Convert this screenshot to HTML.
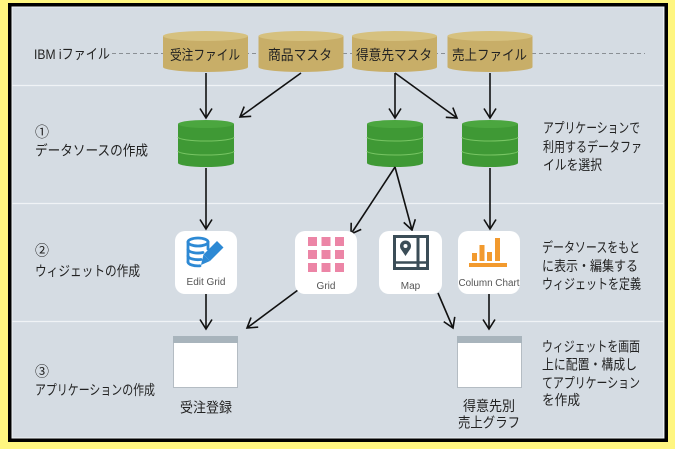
<!DOCTYPE html>
<html><head><meta charset="utf-8">
<style>
html,body{margin:0;padding:0;background:#fff680;}
svg{display:block;}
text{font-family:"Liberation Sans","Noto Sans CJK JP",sans-serif;fill:#222;}
</style></head>
<body>
<svg width="675" height="449" viewBox="0 0 675 449" xmlns="http://www.w3.org/2000/svg">
<defs>
<marker id="ah" viewBox="-11 -7 13 14" markerWidth="13" markerHeight="14" refX="0" refY="0" orient="auto" markerUnits="userSpaceOnUse">
<path d="M-9.5,-6 L0,0 L-9.5,6" fill="none" stroke="#111" stroke-width="1.6" stroke-linejoin="miter"/>
</marker>
</defs>
<rect width="675" height="449" fill="#fff680"/>
<rect x="9.75" y="4.75" width="656.5" height="435.5" fill="#d5dce3" stroke="#000" stroke-width="3.5"/>
<rect x="12" y="7" width="651.5" height="431" fill="none" stroke="#eef2f5" stroke-width="1"/>
<!-- separators -->
<line x1="12" y1="85.5" x2="664" y2="85.5" stroke="#f0f3f6" stroke-width="1.2"/>
<line x1="12" y1="203.5" x2="664" y2="203.5" stroke="#f0f3f6" stroke-width="1.2"/>
<line x1="12" y1="321.5" x2="664" y2="321.5" stroke="#f0f3f6" stroke-width="1.2"/>
<!-- dashed -->
<line x1="112" y1="53.5" x2="645" y2="53.5" stroke="#8a8f94" stroke-width="0.9" stroke-dasharray="4,3"/>

<!-- tan cylinders -->
<g>
<path d="M163,36 v31 a42.5,5 0 0 0 85,0 v-31 z" fill="#c8ae68"/>
<ellipse cx="205.5" cy="36" rx="42.5" ry="5" fill="#d6c17f"/>
<path d="M258.5,36 v31 a42.5,5 0 0 0 85,0 v-31 z" fill="#c8ae68"/>
<ellipse cx="301" cy="36" rx="42.5" ry="5" fill="#d6c17f"/>
<path d="M352,36 v31 a42.5,5 0 0 0 85,0 v-31 z" fill="#c8ae68"/>
<ellipse cx="394.5" cy="36" rx="42.5" ry="5" fill="#d6c17f"/>
<path d="M447.5,36 v31 a42.5,5 0 0 0 85,0 v-31 z" fill="#c8ae68"/>
<ellipse cx="490" cy="36" rx="42.5" ry="5" fill="#d6c17f"/>
</g>
<g font-size="14">
<text x="170" y="60" textLength="70" lengthAdjust="spacingAndGlyphs">受注ファイル</text>
<text x="268" y="60" textLength="64" lengthAdjust="spacingAndGlyphs">商品マスタ</text>
<text x="356" y="60" textLength="76" lengthAdjust="spacingAndGlyphs">得意先マスタ</text>
<text x="452" y="60" textLength="75" lengthAdjust="spacingAndGlyphs">売上ファイル</text>
</g>

<!-- green cylinders -->
<g>
<path d="M178,124 v39 a28,4 0 0 0 56,0 v-39 z" fill="#3f9935"/>
<ellipse cx="206" cy="124" rx="28" ry="4" fill="#4ba63f"/>
<path d="M178,137 a28,4 0 0 0 56,0" fill="none" stroke="#78c564" stroke-width="1"/>
<path d="M178,151 a28,4 0 0 0 56,0" fill="none" stroke="#78c564" stroke-width="1"/>

<path d="M367,124 v39 a28,4 0 0 0 56,0 v-39 z" fill="#3f9935"/>
<ellipse cx="395" cy="124" rx="28" ry="4" fill="#4ba63f"/>
<path d="M367,137 a28,4 0 0 0 56,0" fill="none" stroke="#78c564" stroke-width="1"/>
<path d="M367,151 a28,4 0 0 0 56,0" fill="none" stroke="#78c564" stroke-width="1"/>

<path d="M462,124 v39 a28,4 0 0 0 56,0 v-39 z" fill="#3f9935"/>
<ellipse cx="490" cy="124" rx="28" ry="4" fill="#4ba63f"/>
<path d="M462,137 a28,4 0 0 0 56,0" fill="none" stroke="#78c564" stroke-width="1"/>
<path d="M462,151 a28,4 0 0 0 56,0" fill="none" stroke="#78c564" stroke-width="1"/>
</g>

<!-- arrows -->
<g stroke="#111" stroke-width="1.6" fill="none" marker-end="url(#ah)">
<line x1="206" y1="73" x2="206" y2="118"/>
<line x1="301" y1="73" x2="240" y2="117"/>
<line x1="395" y1="73" x2="395" y2="118"/>
<line x1="395" y1="73" x2="457" y2="118"/>
<line x1="490" y1="73" x2="490" y2="118"/>
<line x1="206" y1="168" x2="206" y2="229"/>
<line x1="395" y1="167" x2="351" y2="234"/>
<line x1="395" y1="167" x2="412" y2="230"/>
<line x1="490" y1="168" x2="490" y2="229"/>
<line x1="206" y1="294" x2="206" y2="329"/>
<line x1="298" y1="290" x2="247" y2="328"/>
<line x1="438" y1="293" x2="453" y2="328"/>
<line x1="489" y1="294" x2="489" y2="329"/>
</g>

<!-- widget cards -->
<rect x="175" y="231" width="62" height="63" rx="10" fill="#fff"/>
<rect x="295" y="231" width="62" height="63" rx="10" fill="#fff"/>
<rect x="379" y="231" width="63" height="63" rx="10" fill="#fff"/>
<rect x="458" y="231" width="62" height="63" rx="10" fill="#fff"/>

<!-- Edit Grid icon -->
<g stroke="#2d89d4" stroke-width="2.8" fill="none" stroke-linecap="round">
<ellipse cx="198" cy="242" rx="10" ry="4"/>
<line x1="188" y1="242" x2="188" y2="262"/>
<line x1="208" y1="242" x2="208" y2="249"/>
<path d="M188,249.5 a10,4 0 0 0 15,3"/>
<path d="M188,256 a10,4 0 0 0 13,3.5"/>
<path d="M188,262 a10,4 0 0 0 12,3.8"/>
</g>
<polygon points="217,241 223.5,247.5 210,261 203.5,254.5" fill="#2d89d4"/>
<polygon points="203.5,254.5 210,261 201,265" fill="#2d89d4"/>
<text x="206" y="285" font-size="10" text-anchor="middle" style="fill:#555">Edit Grid</text>

<!-- Grid icon -->
<g fill="#ec85a6">
<rect x="308" y="237" width="9" height="9"/><rect x="321.5" y="237" width="9" height="9"/><rect x="335" y="237" width="9" height="9"/>
<rect x="308" y="250" width="9" height="9"/><rect x="321.5" y="250" width="9" height="9"/><rect x="335" y="250" width="9" height="9"/>
<rect x="308" y="263" width="9" height="9"/><rect x="321.5" y="263" width="9" height="9"/><rect x="335" y="263" width="9" height="9"/>
</g>
<text x="326" y="289" font-size="10" text-anchor="middle" style="fill:#555">Grid</text>

<!-- Map icon -->
<g stroke="#3b4d57" fill="none">
<rect x="394.5" y="236.5" width="33" height="32" stroke-width="3"/>
<line x1="418" y1="236" x2="418" y2="269" stroke-width="3"/>
<line x1="394" y1="262.5" x2="428" y2="262.5" stroke-width="2.5"/>
</g>
<circle cx="405.5" cy="246" r="5.5" fill="#3b4d57"/>
<polygon points="400.5,248.5 410.5,248.5 405.5,256" fill="#3b4d57"/>
<circle cx="405.5" cy="246" r="2" fill="#fff"/>
<text x="410.5" y="289" font-size="10" text-anchor="middle" style="fill:#555">Map</text>

<!-- Column Chart icon -->
<g fill="#f29a2e">
<rect x="472" y="253" width="5" height="8"/>
<rect x="479.5" y="245" width="5" height="16"/>
<rect x="487" y="252" width="5" height="9"/>
<rect x="495" y="238" width="5" height="23"/>
<rect x="469" y="263" width="38" height="4"/>
</g>
<text x="489" y="286" font-size="10" text-anchor="middle" style="fill:#555" textLength="61" lengthAdjust="spacingAndGlyphs">Column Chart</text>

<!-- windows -->
<rect x="173.5" y="336.5" width="64" height="51" fill="#fff" stroke="#b4bcc3" stroke-width="1"/>
<rect x="173" y="336" width="65" height="7" fill="#a8b4bc"/>
<rect x="457.5" y="336.5" width="64" height="51" fill="#fff" stroke="#b4bcc3" stroke-width="1"/>
<rect x="457" y="336" width="65" height="7" fill="#a8b4bc"/>

<g font-size="14">
<text x="180" y="412.5" textLength="52" lengthAdjust="spacingAndGlyphs">受注登録</text>
<text x="463" y="411" textLength="52" lengthAdjust="spacingAndGlyphs">得意先別</text>
<text x="458" y="427.5" textLength="62" lengthAdjust="spacingAndGlyphs">売上グラフ</text>
</g>

<!-- left labels -->
<g font-size="14">
<text x="34" y="59" textLength="76" lengthAdjust="spacingAndGlyphs">IBM iファイル</text>
<text x="35" y="137">①</text>
<text x="35" y="155.5" textLength="113" lengthAdjust="spacingAndGlyphs">データソースの作成</text>
<text x="35" y="255.5">②</text>
<text x="35" y="276" textLength="105" lengthAdjust="spacingAndGlyphs">ウィジェットの作成</text>
<text x="35" y="376.5">③</text>
<text x="35" y="395" textLength="120" lengthAdjust="spacingAndGlyphs">アプリケーションの作成</text>
</g>

<!-- right descriptions -->
<g font-size="14">
<text x="543" y="133" textLength="97" lengthAdjust="spacingAndGlyphs">アプリケーションで</text>
<text x="543" y="152" textLength="99" lengthAdjust="spacingAndGlyphs">利用するデータファ</text>
<text x="543" y="170" textLength="59" lengthAdjust="spacingAndGlyphs">イルを選択</text>

<text x="542" y="252.5" textLength="98" lengthAdjust="spacingAndGlyphs">データソースをもと</text>
<text x="542" y="271" textLength="96" lengthAdjust="spacingAndGlyphs">に表示・編集する</text>
<text x="542" y="289" textLength="99" lengthAdjust="spacingAndGlyphs">ウィジェットを定義</text>

<text x="542" y="351.5" textLength="98" lengthAdjust="spacingAndGlyphs">ウィジェットを画面</text>
<text x="542" y="369.5" textLength="95" lengthAdjust="spacingAndGlyphs">上に配置・構成し</text>
<text x="542" y="388" textLength="98" lengthAdjust="spacingAndGlyphs">てアプリケーション</text>
<text x="542" y="405" textLength="38" lengthAdjust="spacingAndGlyphs">を作成</text>
</g>
</svg>
</body></html>
